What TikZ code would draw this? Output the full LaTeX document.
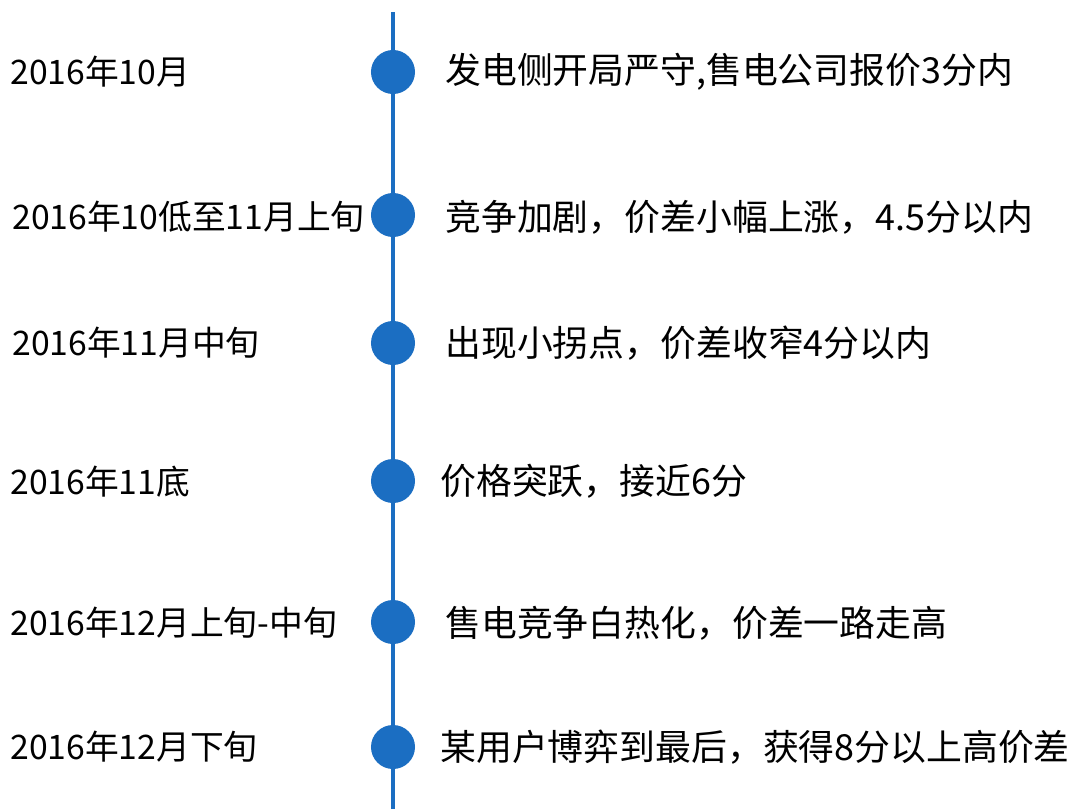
\documentclass[tikz,border=0pt]{standalone}
\usepackage{fontspec}
\setmainfont{Noto Sans CJK SC}
\usetikzlibrary{positioning}
\definecolor{dotblue}{HTML}{1B6EC2}
\tikzset{
  eventdot/.style={circle, fill=dotblue, inner sep=0pt, minimum size=1.1cm},
  datetext/.style={anchor=west, inner sep=0pt, font=\fontsize{24}{28}\selectfont},
  eventtext/.style={anchor=west, inner sep=0pt, font=\fontsize{25.5}{28}\selectfont}
}

\begin{document}
\begin{tikzpicture}[x=0.025cm, y=-0.025cm]
    \useasboundingbox[fill=white] (0,0) rectangle (1080,809);
    % dates
    \node[datetext] (t1) at (10,72) {2016年10月};
    \node[datetext] (t2) at (12,217) {2016年10低至11月上旬};
    \node[datetext] (t3) at (12,343) {2016年11月中旬};
    \node[datetext] (t4) at (10,482) {2016年11底};
    \node[datetext] (t5) at (10,623) {2016年12月上旬-中旬};
    \node[datetext] (t6) at (10,747) {2016年12月下旬};
    % events
    \node[eventtext] (e1) at (445,72) {发电侧开局严守,售电公司报价3分内};
    \node[eventtext] (e2) at (445,217) {竞争加剧，价差小幅上涨，4.5分以内};
    \node[eventtext] (e3) at (445,343) {出现小拐点，价差收窄4分以内};
    \node[eventtext] (e4) at (440,481) {价格突跃，接近6分};
    \node[eventtext] (e5) at (445,623) {售电竞争白热化，价差一路走高};
    \node[eventtext] (e6) at (440,747) {某用户博弈到最后，获得8分以上高价差};
    % timeline
    \coordinate (top) at (393,12);
    \coordinate (bot) at (393,809);
    \draw[dotblue, line width=2.2pt] (top) -- (bot);
    \foreach \n/\y in {1/72,2/215,3/343,4/481,5/622,6/747}{
      \node[eventdot] (d\n) at (393,\y) {};
    }
  \end{tikzpicture}
\end{document}
